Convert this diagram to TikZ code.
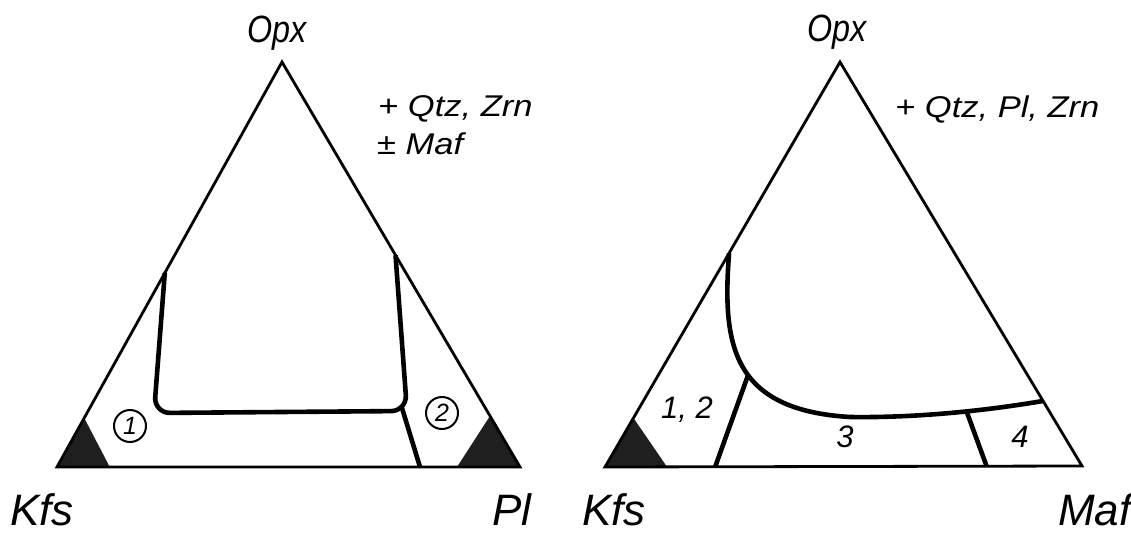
\documentclass[tikz,border=0pt]{standalone}
\usepackage{fontspec}
\setmainfont{Liberation Sans}
\newfontfamily\zusatzfont[FakeStretch=1.15]{Liberation Sans}
\newfontfamily\spitzefont[FakeStretch=0.85]{Liberation Sans}
\usetikzlibrary{calc}

\begin{document}
\begin{tikzpicture}[
		x=1pt, y=-1pt,
		rand/.style={line width=2.8pt, line join=miter},
		grenze/.style={line width=4.6pt, line join=round},
		feld/.style={fill=black!88},
		spitze/.style={font=\spitzefont\fontsize{38}{38}\selectfont\itshape, inner sep=0pt, anchor=base},
		ecke/.style={font=\fontsize{44}{44}\selectfont\itshape, inner sep=0pt, anchor=base west},
		zusatz/.style={font=\zusatzfont\fontsize{30}{30}\selectfont\itshape, inner sep=0pt, anchor=base west},
		kreis/.style={draw, circle, line width=2pt, minimum size=32pt, inner sep=0pt,
			font=\fontsize{25}{25}\selectfont\itshape},
		zahl/.style={font=\fontsize{31}{31}\selectfont\itshape, inner sep=0pt},
	]
		\useasboundingbox (0,0) rectangle (1131,540);

		% Dreieck links: Kfs - Pl - Opx
		\coordinate (kfs1) at (57,467);
		\coordinate (pl)   at (520,467);
		\coordinate (opx1) at (282,62);

		\fill[feld] (kfs1) -- ($(kfs1)!0.121!(opx1)$) -- ($(kfs1)!0.114!(pl)$) -- cycle;
		\fill[feld] (pl) -- ($(pl)!0.126!(opx1)$) -- ($(pl)!0.136!(kfs1)$) -- cycle;
		\draw[rand] (kfs1) -- (pl) -- (opx1) -- cycle;

		% Feldgrenzen links
		\coordinate (l1) at ($(kfs1)!0.479!(opx1)$);
		\coordinate (r1) at ($(pl)!0.523!(opx1)$);
		\coordinate (j1) at (402,408);
		\coordinate (b1) at ($(kfs1)!0.784!(pl)$);
		\draw[grenze, rounded corners=16pt] (l1) -- (154,413) -- (407,411) -- (r1);
		\draw[grenze] (j1) -- (b1);

		\node[kreis] (n1) at (130,426) {1};
		\node[kreis] (n2) at (442,413) {2};

		\node[spitze] (opxa) at (277,43) {Opx};
		\node[ecke] (kfsa) at (10,525) {Kfs};
		\node[ecke] (pla) at (492,525) {Pl};
		\node[zusatz] (za) at (378,117) {+ Qtz, Zrn};
		\node[zusatz] (zb) at (377,155) {± Maf};

		% Dreieck rechts: Kfs - Maf - Opx
		\coordinate (kfs2) at (605,467);
		\coordinate (maf)  at (1082,466);
		\coordinate (opx2) at (840,62);

		\fill[feld] (kfs2) -- ($(kfs2)!0.121!(opx2)$) -- ($(kfs2)!0.13!(maf)$) -- cycle;
		\draw[rand] (kfs2) -- (maf) -- (opx2) -- cycle;

		% Feldgrenzen rechts
		\coordinate (l2) at ($(kfs2)!0.528!(opx2)$);
		\coordinate (r2) at ($(maf)!0.161!(opx2)$);
		\coordinate (m2) at (850,417);
		\draw[grenze] (l2) .. controls (722,345) and (732,410) .. coordinate[pos=0.55] (j2) (m2)
			.. controls (920,418) and (990,410) .. coordinate[pos=0.57] (j3) (r2);
		\draw[grenze] (j2) -- ($(kfs2)!0.231!(maf)$);
		\draw[grenze] (j3) -- ($(kfs2)!0.80!(maf)$);

		\node[zahl] (f12) at (687,410) {1, 2};
		\node[zahl] (f3) at (845,437) {3};
		\node[zahl] (f4) at (1020,437) {4};

		\node[spitze] (opxb) at (837,42) {Opx};
		\node[ecke] (kfsb) at (582,525) {Kfs};
		\node[ecke] (mafb) at (1058,525) {Maf};
		\node[zusatz] (zc) at (895,118) {+ Qtz, Pl, Zrn};
	\end{tikzpicture}
\end{document}
